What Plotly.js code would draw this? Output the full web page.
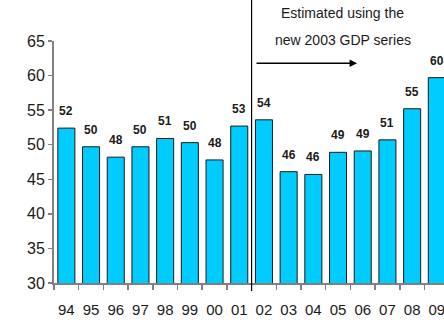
<!DOCTYPE html>
<html>
<head>
<meta charset="utf-8">
<script src="https://cdn.plot.ly/plotly-3.0.1.min.js"></script>
<style>
  html, body { margin: 0; padding: 0; background: #fff; }
  #chart { width: 444px; height: 328px; }
</style>
</head>
<body>
<div id="chart"></div>
<script>
// Fiscal years (two-digit labels) and the ratio for each year
const years = ['94', '95', '96', '97', '98', '99', '00', '01',
               '02', '03', '04', '05', '06', '07', '08', '09'];
const values = [52.4, 49.7, 48.2, 49.7, 50.9, 50.3, 47.8, 52.7,
                53.6, 46.1, 45.7, 48.9, 49.1, 50.7, 55.2, 59.7];
// Rounded value printed above each bar
const valueLabels = values.map(v => String(Math.round(v)));

// Series break: the new GDP series starts with 02
const breakAfter = '01';
const noteLines = ['Estimated using the', 'new 2003 GDP series'];

const FONT = '"Liberation Sans", Arial, sans-serif';
const breakPos = years.indexOf(breakAfter) + 0.5;

const trace = {
  type: 'bar',
  x: years,
  y: values,
  marker: { color: '#00CCFF', line: { color: '#1a1a1a', width: 1 } },
  hoverinfo: 'skip'
};

// Value labels sit a fixed distance above each bar top
// (positions by category index, so '00', '01'... are not read as numbers)
const barLabels = values.map((v, i) => ({
  x: i, y: v, xref: 'x', yref: 'y',
  text: '<b>' + valueLabels[i] + '</b>',
  showarrow: false, xanchor: 'center', yanchor: 'middle', yshift: 17,
  font: { family: FONT, size: 12, color: '#1a1a1a' }
}));

const notes = [
  { x: 11.2, y: 1.116, xref: 'x', yref: 'paper', text: noteLines[0],
    xanchor: 'center', yanchor: 'middle',
    showarrow: false, font: { family: FONT, size: 14, color: '#1a1a1a' } },
  { x: 11.2, y: 1.004, xref: 'x', yref: 'paper', text: noteLines[1],
    xanchor: 'center', yanchor: 'middle',
    showarrow: false, font: { family: FONT, size: 14, color: '#1a1a1a' } },
  // Arrow pointing into the new-series period
  { x: 11.77, y: 61.8, xref: 'x', yref: 'y',
    ax: breakPos + 0.14, ay: 61.8, axref: 'x', ayref: 'y',
    text: '', showarrow: true, arrowhead: 2, arrowsize: 1,
    arrowwidth: 1.5, arrowcolor: '#000' }
];

const layout = {
  width: 444, height: 328,
  margin: { l: 54, r: 0, t: 41, b: 45 },
  paper_bgcolor: '#fff', plot_bgcolor: '#fff',
  showlegend: false,
  bargap: 0.31,
  font: { family: FONT, color: '#1a1a1a' },
  xaxis: {
    type: 'category',
    range: [-0.5, 15.29],
    tickson: 'boundaries',
    tickangle: 0,
    ticks: 'outside', ticklen: 5, tickwidth: 1.5, tickcolor: '#808080',
    showline: true, linecolor: '#808080', linewidth: 2,
    showgrid: false, zeroline: false,
    ticklabelstandoff: 12,
    tickfont: { family: FONT, size: 15, color: '#1a1a1a' }
  },
  yaxis: {
    range: [30, 65],
    tickvals: [30, 35, 40, 45, 50, 55, 60, 65],
    ticks: 'outside', ticklen: 4, tickwidth: 1.5, tickcolor: '#808080',
    showline: true, linecolor: '#808080', linewidth: 2,
    showgrid: false, zeroline: false,
    tickfont: { family: FONT, size: 16, color: '#1a1a1a' }
  },
  shapes: [{
    type: 'line', xref: 'x', yref: 'paper',
    x0: breakPos, x1: breakPos, y0: -0.033, y1: 1.17,
    line: { color: '#000', width: 1.2 }
  }],
  annotations: barLabels.concat(notes)
};

Plotly.newPlot('chart', [trace], layout, { displayModeBar: false, staticPlot: true });
</script>
</body>
</html>
